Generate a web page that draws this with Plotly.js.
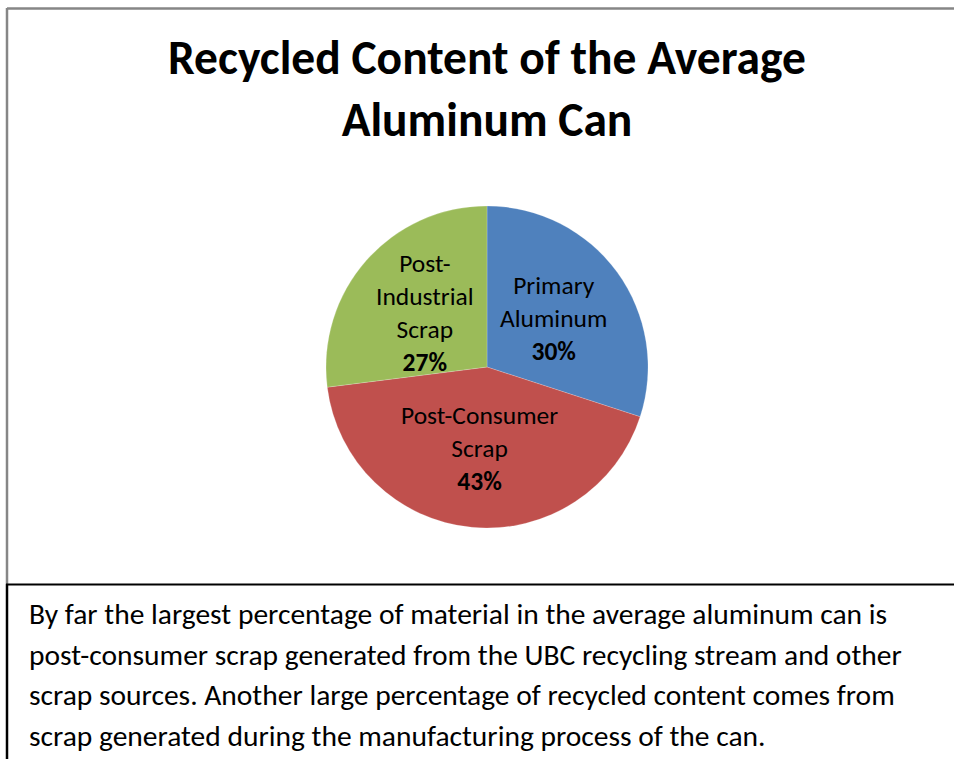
<!DOCTYPE html>
<html>
<head>
<meta charset="utf-8">
<script src="https://cdn.plot.ly/plotly-3.0.1.min.js"></script>
<style>html,body{margin:0;padding:0;background:#fff;}#chart{width:954px;height:759px;}</style>
</head>
<body>
<div id="chart"></div>
<script>
const categories = ["Primary<br>Aluminum", "Post-Consumer<br>Scrap", "Post-<br>Industrial<br>Scrap"];
const shares = [30, 43, 27];
const sliceColors = ["#4F81BD", "#C0504D", "#9BBB59"];
const titleText = "Recycled Content of the Average<br>Aluminum Can";
const captionLines = [
  "By far the largest percentage of material in the average aluminum can is",
  "post-consumer scrap generated from the UBC recycling stream and other",
  "scrap sources. Another large percentage of recycled content comes from",
  "scrap generated during the manufacturing process of the can."
];

const FONT = "Carlito, Calibri, 'Open Sans', sans-serif";
const W = 954, H = 759;
const px = x => x / W;
const py = y => 1 - y / H;

const dom = {x: [px(326), px(648)], y: [py(528), py(206)]};

const trace = {
  type: "pie",
  labels: categories,
  values: shares,
  sort: false,
  direction: "clockwise",
  rotation: 0,
  marker: {colors: sliceColors, line: {color: "rgba(255,255,255,0.4)", width: 0.5}},
  textinfo: "none",
  hoverinfo: "label+percent",
  showlegend: false,
  domain: dom
};

// data labels placed along each slice's mid-angle (derived from the shares)
const total = shares.reduce((a, b) => a + b, 0);
const cx = (dom.x[0] + dom.x[1]) / 2, cy = (dom.y[0] + dom.y[1]) / 2;
const rx = (dom.x[1] - dom.x[0]) / 2, ry = (dom.y[1] - dom.y[0]) / 2;
const labelRadius = 0.51;
let cum = 0;
const labelAnns = shares.map((v, i) => {
  const mid = (cum + v / 2) / total * 2 * Math.PI;
  cum += v;
  return {
    text: categories[i] + "<br><b>" + Math.round(v / total * 100) + "%</b>",
    xref: "paper", yref: "paper",
    x: cx + labelRadius * rx * Math.sin(mid),
    y: cy + labelRadius * ry * Math.cos(mid),
    xanchor: "center", yanchor: "middle", align: "center", showarrow: false,
    font: {family: FONT, size: 25.5, color: "#000"}
  };
});

const captionAnns = captionLines.map((t, i) => ({
  text: t, xref: "paper", yref: "paper", x: px(27), y: py(614 + i * 40.7),
  xanchor: "left", yanchor: "middle", showarrow: false,
  font: {family: FONT, size: 29.5, color: "#000"}
}));

const shapes = [
  {type: "line", xref: "paper", yref: "paper", x0: px(7), x1: px(960), y0: py(8.5), y1: py(8.5), line: {color: "#868686", width: 2.5}},
  {type: "line", xref: "paper", yref: "paper", x0: px(7), x1: px(7), y0: py(8), y1: py(584), line: {color: "#868686", width: 2.5}},
  {type: "line", xref: "paper", yref: "paper", x0: px(6), x1: px(960), y0: py(584.5), y1: py(584.5), line: {color: "#000", width: 2}},
  {type: "line", xref: "paper", yref: "paper", x0: px(7), x1: px(7), y0: py(584), y1: py(770), line: {color: "#000", width: 2.5}}
];

const layout = {
  width: W, height: H,
  margin: {l: 0, r: 0, t: 0, b: 0},
  paper_bgcolor: "#fff",
  title: {text: "<b>" + titleText + "</b>", font: {family: FONT, size: 47.5, color: "#000"},
          x: px(487), xanchor: "center", y: py(74), yanchor: "middle", yref: "paper"},
  annotations: labelAnns.concat(captionAnns),
  shapes: shapes
};

Plotly.newPlot("chart", [trace], layout, {displayModeBar: false, staticPlot: true});
</script>
</body>
</html>
